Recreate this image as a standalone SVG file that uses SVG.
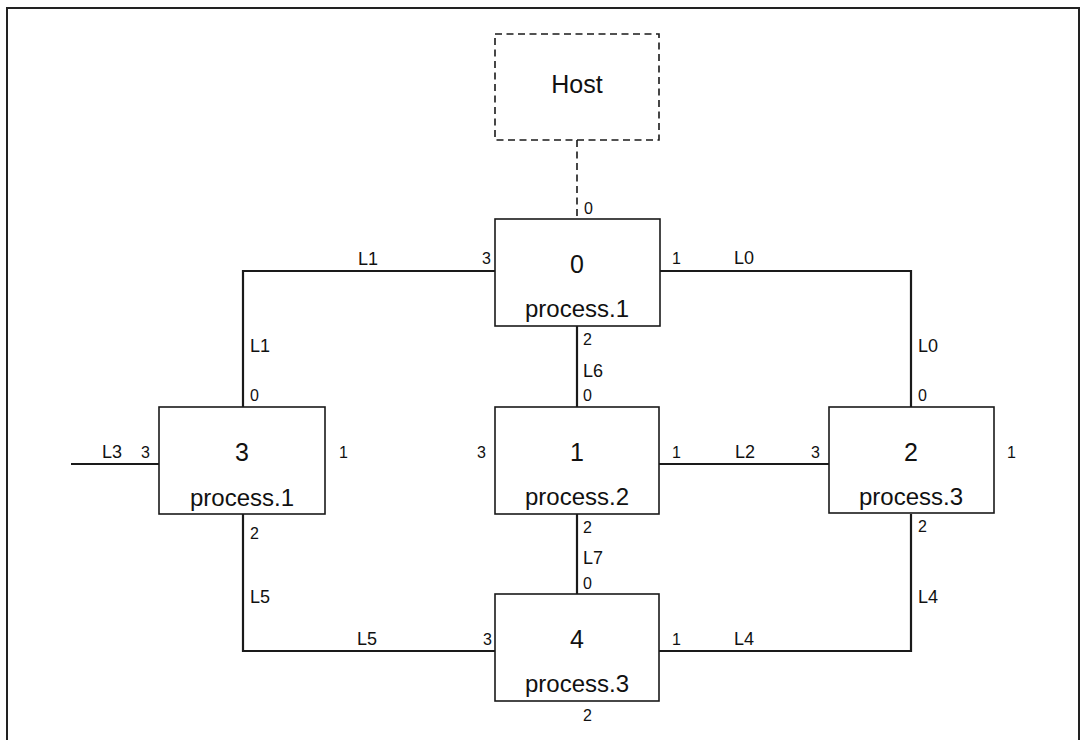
<svg xmlns="http://www.w3.org/2000/svg" width="1081" height="740" viewBox="0 0 1081 740">
<style>
.box{fill:#fff;stroke:#1a1a1a;stroke-width:1.6}
.host{fill:#fff;stroke:#1a1a1a;stroke-width:1.6;stroke-dasharray:7 4.5}
.ln{fill:none;stroke:#1a1a1a;stroke-width:2.2}
.dl{fill:none;stroke:#1a1a1a;stroke-width:1.6;stroke-dasharray:7 4.5}
.id{font-family:"Liberation Sans",Arial,sans-serif;font-size:25px;fill:#111;text-anchor:middle}
.pl{font-family:"Liberation Sans",Arial,sans-serif;font-size:24px;fill:#111;text-anchor:middle}
.pt{font-family:"Liberation Sans",Arial,sans-serif;font-size:16px;fill:#111}
.lk{font-family:"Liberation Sans",Arial,sans-serif;font-size:18px;fill:#111}
</style>
<rect width="1081" height="740" fill="#fff"/>
<g id="frame">
<path d="M7 741 V8 H1079 V741" fill="none" stroke="#222" stroke-width="2"/>
</g>
<g id="connectors">
<path class="dl" d="M577 140 V219"/>
<path class="ln" d="M495 271 H243 V407"/>
<path class="ln" d="M659 271 H911 V407"/>
<path class="ln" d="M577 326 V407"/>
<path class="ln" d="M577 514 V594"/>
<path class="ln" d="M659 464 H829"/>
<path class="ln" d="M71 464 H159"/>
<path class="ln" d="M243 514 V651 H495"/>
<path class="ln" d="M911 514 V651 H659"/>
<text class="pt" x="584" y="214">0</text>
<text class="lk" x="358" y="265">L1</text>
<text class="pt" x="482" y="264">3</text>
<text class="pt" x="672" y="264">1</text>
<text class="lk" x="734" y="264">L0</text>
<text class="lk" x="250" y="352">L1</text>
<text class="lk" x="918" y="352">L0</text>
<text class="pt" x="583" y="345">2</text>
<text class="lk" x="583" y="377">L6</text>
<text class="pt" x="583" y="401">0</text>
<text class="pt" x="250" y="401">0</text>
<text class="pt" x="918" y="401">0</text>
<text class="lk" x="102" y="458">L3</text>
<text class="pt" x="141" y="458">3</text>
<text class="pt" x="339" y="458">1</text>
<text class="pt" x="477" y="458">3</text>
<text class="pt" x="672" y="458">1</text>
<text class="lk" x="735" y="458">L2</text>
<text class="pt" x="811" y="458">3</text>
<text class="pt" x="1007" y="458">1</text>
<text class="pt" x="250" y="539">2</text>
<text class="pt" x="583" y="533">2</text>
<text class="pt" x="918" y="532">2</text>
<text class="lk" x="583" y="564">L7</text>
<text class="pt" x="583" y="589">0</text>
<text class="lk" x="250" y="603">L5</text>
<text class="lk" x="918" y="603">L4</text>
<text class="lk" x="357" y="645">L5</text>
<text class="pt" x="483" y="645">3</text>
<text class="pt" x="672" y="645">1</text>
<text class="lk" x="734" y="645">L4</text>
<text class="pt" x="583" y="721">2</text>
</g>
<g id="host">
<rect class="host" x="495" y="34" width="164" height="106"/>
<text class="id" x="577" y="93">Host</text>
</g>
<g id="node0">
<rect class="box" x="495" y="219" width="165" height="107"/>
<text class="id" x="577" y="273">0</text>
<text class="pl" x="577" y="317">process.1</text>
</g>
<g id="node3">
<rect class="box" x="159" y="407" width="166" height="107"/>
<text class="id" x="242" y="461">3</text>
<text class="pl" x="242" y="506">process.1</text>
</g>
<g id="node1">
<rect class="box" x="495" y="407" width="164" height="107"/>
<text class="id" x="577" y="461">1</text>
<text class="pl" x="577" y="505">process.2</text>
</g>
<g id="node2">
<rect class="box" x="829" y="407" width="165" height="106"/>
<text class="id" x="911" y="461">2</text>
<text class="pl" x="911" y="505">process.3</text>
</g>
<g id="node4">
<rect class="box" x="495" y="594" width="164" height="107"/>
<text class="id" x="577" y="648">4</text>
<text class="pl" x="577" y="692">process.3</text>
</g>
</svg>
